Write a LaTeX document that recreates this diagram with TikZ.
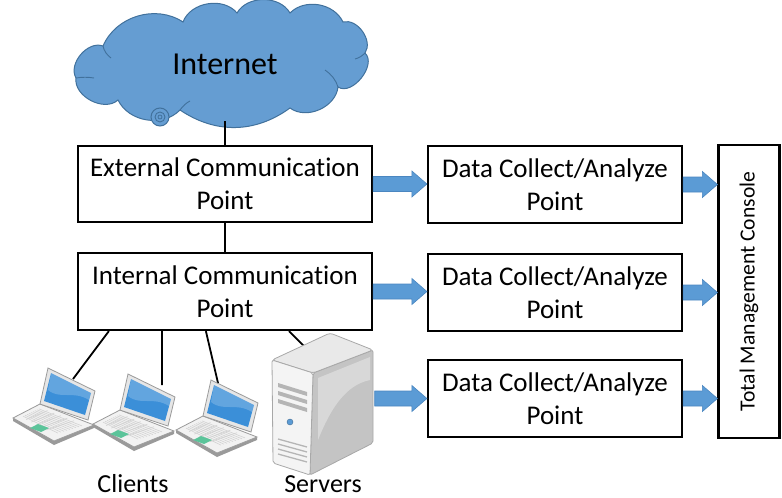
\documentclass[tikz,border=0pt]{standalone}
\usepackage{fontspec}
\setmainfont{Carlito}[Ligatures=NoCommon]
\usetikzlibrary{calc}

\definecolor{cloudfill}{HTML}{659DD2}
\definecolor{cloudedge}{HTML}{41719C}
\definecolor{flowblue}{HTML}{5B9BD5}
\definecolor{flowedge}{HTML}{4A86C0}
\definecolor{keyfill}{HTML}{F2F2F2}
\definecolor{keyedge}{HTML}{9A9A9A}
\definecolor{lidfill}{HTML}{E6E6E6}
\definecolor{screenblue}{HTML}{3B8FD8}
\definecolor{padgreen}{HTML}{5BC49A}
\definecolor{srvfront}{HTML}{F4F4F4}
\definecolor{srvtop}{HTML}{E9E9E9}
\definecolor{srvside}{HTML}{C4C4C4}
\definecolor{srvedge}{HTML}{A8A8A8}

\newcommand\boxfont{\fontsize{27}{33}\selectfont}

% block arrow between two points (drawn in canvas coordinates)
\newcommand\flowarrow[2]{%
  \filldraw[fill=flowblue, draw=flowedge, line width=0.6pt, line join=miter]
    let \p1=(#1), \p2=(#2) in
    ({\x1},{\y1+7.5pt}) -- ({\x2-15pt},{\y1+7.5pt}) -- ({\x2-15pt},{\y1+13pt})
    -- ({\x2},{\y1}) -- ({\x2-15pt},{\y1-13pt}) -- ({\x2-15pt},{\y1-7.5pt})
    -- ({\x1},{\y1-7.5pt}) -- cycle;}

\tikzset{
  box/.style={draw=black, line width=2.2pt, fill=white, align=center,
              font=\boxfont, inner sep=0pt},
  link/.style={draw=black, line width=1.8pt},
  crease/.style={draw=cloudedge, line width=0.9pt},
  laptop/.pic={
    % base slab
    \fill[keyedge] (-35,50) -- (6,73) -- (46,57) -- (46,60) -- (6,77) -- (-35,53) -- cycle;
    \filldraw[fill=keyfill, draw=keyedge, line width=0.8pt]
      (-35,50) -- (-8,36) -- (46,57) -- (6,73) -- cycle;
    % key rows
    \foreach \t in {0.15,0.3,0.45,0.6,0.75}
      \draw[keyedge!45, line width=0.6pt]
        ($(-27,49)!\t!(7,66)$) -- ($(-7,40)!\t!(37,57)$);
    \foreach \t in {0.1,0.2,...,0.9}
      \draw[keyedge!45, line width=0.6pt]
        ($(-27,49)!\t!(-7,40)$) -- ($(7,66)!\t!(37,57)$);
    % touchpad
    \fill[padgreen] (-18,60) -- (-10,56) -- (1,60) -- (-7,64) -- cycle;
    % lid and screen
    \filldraw[fill=lidfill, draw=keyedge, line width=0.8pt]
      (0,0) -- (47,23) -- (40,52) -- (-8,36) -- cycle;
    \fill[screenblue] (3,5) -- (43,25) -- (37,47) -- (-4,33) -- cycle;
    \fill[white, opacity=0.2] (3,5) -- (43,25) -- (41,32) .. controls (25,22) and (12,32) .. (0,22) -- cycle;
  }
}

\begin{document}
\begin{tikzpicture}[x=1pt, y=-1pt]
  \useasboundingbox (0,0) rectangle (782,498);

  % cloud outline
  \filldraw[fill=cloudfill, draw=cloudedge, line width=1pt]
    (76,78) to[bend left=70] (103,46) to[bend left=50] (183,22)
    to[bend left=60] (237,13) to[bend left=60] (290,13)
    to[bend left=55] (343,22) to[bend left=70] (365,53)
    to[bend left=85] (338,87) to[bend left=60] (290,108)
    to[bend left=35] (180,110) to[bend left=55] (118,100)
    to[bend left=70] cycle;
  % cloud creases
  \draw[crease] (103,46) .. controls (104,51) and (107,55) .. (111,58);
  \draw[crease] (338,87) .. controls (336,80) and (331,74) .. (325,70);
  \draw[crease] (365,53) .. controls (362,56) and (359,58) .. (355,59);
  \draw[crease] (180,110) .. controls (183,106) and (186,103) .. (190,101);
  \draw[crease] (76,78) .. controls (82,77) and (88,77) .. (94,78);
  \node[font=\fontsize{32}{36}\selectfont, inner sep=0pt] (net) at (225,64) {Internet};
  \coordinate (netbot) at (225,121);
  \filldraw[fill=cloudfill, draw=cloudedge, line width=1pt] (160,117) circle (9);
  \draw[cloudedge, line width=0.9pt] (160,117) circle (5);
  \draw[cloudedge, line width=0.8pt] (160,117) circle (2);

  % communication points
  \node[box, minimum width=294pt, minimum height=76pt] (ext) at (225,184)
    {External Communication\\Point};
  \node[box, minimum width=294pt, minimum height=77pt] (int) at (225,291.5)
    {Internal Communication\\Point};

  % data collect / analyze points
  \node[box, minimum width=254pt, minimum height=77pt] (d1) at (555,184.5)
    {Data Collect/Analyze\\Point};
  \node[box, minimum width=254pt, minimum height=77pt] (d2) at (555,292.5)
    {Data Collect/Analyze\\Point};
  \node[box, minimum width=254pt, minimum height=77pt] (d3) at (555,398.5)
    {Data Collect/Analyze\\Point};

  % management console
  \node[box, minimum width=61pt, minimum height=293pt, font=\fontsize{21.6}{24}\selectfont]
    (con) at (749,291.5) {\rotatebox{90}{Total Management Console}};

  % backbone links
  \draw[link] (netbot) -- (ext.north);
  \draw[link] (ext.south) -- (int.north);

  % client and server anchors
  \path (int.south west) ++(32,0) coordinate (p1)
        (int.south west) ++(85,0) coordinate (p2)
        (int.south west) ++(129,0) coordinate (p3)
        (int.south west) ++(212,0) coordinate (p4);
  \coordinate (lap1) at (73,379);
  \coordinate (lap2) at (162,385);
  \coordinate (lap3) at (218,383);
  \coordinate (srvtop) at (306,348);

  \draw[link] (p1) -- (lap1);
  \draw[link] (p2) -- (lap2);
  \draw[link] (p3) -- (lap3);
  \draw[link] (p4) -- (srvtop);

  % laptops
  \pic at (48,368) {laptop};
  \pic at (128,374) {laptop};
  \pic at (211,380) {laptop};

  % server tower
  \node[minimum width=103pt, minimum height=145pt, inner sep=0pt] (srv) at (323,404) {};
  \filldraw[fill=srvside, draw=srvedge, line width=0.8pt, rounded corners=2pt]
    (313,373) -- (373,350) -- (373,443) -- (310,475) -- cycle;
  \fill[white, opacity=0.35] (318,378) -- (370,357) -- (370,380) .. controls (345,385) and (330,410) .. (318,440) -- cycle;
  \filldraw[fill=srvtop, draw=srvedge, line width=0.8pt, rounded corners=3pt]
    (272,360) -- (330,333) -- (373,350) -- (313,373) -- cycle;
  \filldraw[fill=srvfront, draw=srvedge, line width=0.8pt, rounded corners=2pt]
    (272,360) -- (313,373) -- (310,475) -- (273,463) -- cycle;
  \foreach \dy in {0,8,16}
    \fill[srvedge!85] (278,383+\dy) -- (307,392+\dy) -- (307,396+\dy) -- (278,387+\dy) -- cycle;
  \filldraw[fill=flowblue, draw=flowblue!70!black, line width=0.4pt] (290,422) circle (3);
  \foreach \dy in {0,5,10,15}
    \draw[srvedge!85, line width=1.3pt] (278,439+\dy) -- (307,447+\dy);

  % captions
  \node[font=\fontsize{26}{30}\selectfont] (cli) at (133,484) {Clients};
  \node[font=\fontsize{26}{30}\selectfont] (svl) at (323,484) {Servers};

  % data flows
  \flowarrow{ext.east}{d1.west}
  \flowarrow{int.east}{d2.west}
  \flowarrow{srv.east |- d3.west}{d3.west}
  \flowarrow{d1.east}{d1.east -| con.west}
  \flowarrow{d2.east}{d2.east -| con.west}
  \flowarrow{d3.east}{d3.east -| con.west}
\end{tikzpicture}
\end{document}
